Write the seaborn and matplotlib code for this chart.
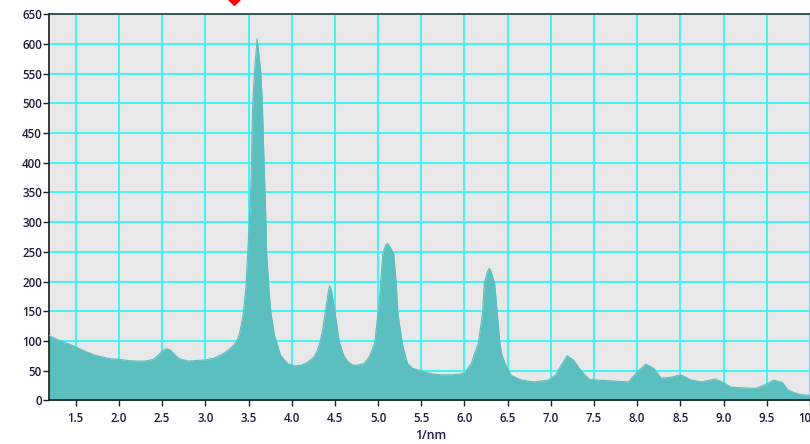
import matplotlib
matplotlib.use("Agg")
import matplotlib.pyplot as plt
import seaborn as sns
import pandas as pd

# Spectrum: intensity versus scattering vector (1/nm)
q_values = [
    1.19, 1.25, 1.32, 1.40, 1.50, 1.60, 1.70, 1.80, 1.90, 2.00,
    2.10, 2.20, 2.30, 2.40, 2.45, 2.50, 2.55, 2.60, 2.65, 2.70,
    2.80, 2.90, 3.00, 3.10, 3.20, 3.27, 3.33, 3.37, 3.40, 3.44,
    3.47, 3.49, 3.52, 3.535, 3.54, 3.55, 3.57, 3.59, 3.60, 3.61,
    3.64, 3.66, 3.67, 3.68, 3.70, 3.71, 3.74, 3.76, 3.80, 3.82,
    3.87, 3.95, 4.03, 4.11, 4.18, 4.26, 4.30, 4.33, 4.36, 4.39,
    4.42, 4.44, 4.46, 4.50, 4.53, 4.55, 4.58, 4.61, 4.66, 4.71,
    4.76, 4.84, 4.90, 4.96, 5.00, 5.03, 5.055, 5.09, 5.11, 5.14,
    5.18, 5.21, 5.23, 5.28, 5.34, 5.40, 5.46, 5.55, 5.65, 5.73,
    5.85, 5.95, 6.00, 6.08, 6.12, 6.16, 6.21, 6.23, 6.27, 6.29,
    6.31, 6.35, 6.38, 6.41, 6.43, 6.47, 6.54, 6.66, 6.81, 6.97,
    7.05, 7.12, 7.19, 7.26, 7.36, 7.45, 7.66, 7.90, 8.00, 8.10,
    8.19, 8.28, 8.40, 8.50, 8.63, 8.75, 8.90, 8.98, 9.09, 9.37,
    9.48, 9.58, 9.68, 9.75, 9.87, 10.02,
]
intensity = [
    109, 105, 100, 96, 90, 83, 77, 73, 70, 69,
    67, 66, 66, 69, 75, 83, 87, 84, 76, 70,
    66, 67, 68, 71, 78, 85, 93, 101, 115, 147,
    190, 247, 330, 399, 450, 500, 556, 590, 609, 595,
    556, 500, 450, 399, 310, 247, 180, 147, 110, 101,
    76, 62, 58, 59, 64, 73, 85, 99, 120, 149,
    180, 193, 185, 149, 120, 99, 85, 73, 64, 59,
    59, 62, 74, 96, 146, 197, 247, 262, 264, 258,
    247, 197, 146, 96, 62, 54, 51, 47, 44, 43,
    43, 44, 46, 62, 80, 96, 146, 197, 218, 222,
    216, 197, 146, 96, 79, 62, 42, 34, 31, 34,
    42, 59, 75, 68, 48, 35, 33, 31, 48, 61,
    54, 37, 39, 43, 34, 31, 36, 31, 22, 20,
    26, 34, 30, 17, 10, 8,
]

x_ticks = [1.5, 2.0, 2.5, 3.0, 3.5, 4.0, 4.5, 5.0, 5.5, 6.0, 6.5,
           7.0, 7.5, 8.0, 8.5, 9.0, 9.5, 10.0]
y_ticks = list(range(0, 651, 50))
cursor_q = 3.33

df = pd.DataFrame({"q": q_values, "intensity": intensity})

sns.set_style("ticks")
plt.rcParams["font.family"] = ["Open Sans", "DejaVu Sans"]

fill_color = "#5cbfbf"
grid_color = "#3ff5f5"
label_color = "#1c1c3c"
label_font = dict(size=8.3, weight="semibold")

fig = plt.figure(figsize=(8.1, 4.44), dpi=100)
ax = fig.add_axes([49 / 810, 43.7 / 444, 1 - 49 / 810 + 0.002, (400.3 - 14.3) / 444])
ax.set_facecolor("#e8e8e8")

ax.fill_between(df["q"], df["intensity"], 0, color=fill_color, linewidth=0, zorder=2)
sns.lineplot(data=df, x="q", y="intensity", ax=ax, color=fill_color,
             linewidth=0.8, zorder=3, estimator=None, sort=False)

ax.set_xlim(1.19, 10.02)
ax.set_ylim(0, 650)
ax.set_xticks(x_ticks)
ax.set_xticklabels([f"{v:.1f}" for v in x_ticks], fontdict=label_font)
ax.set_yticks(y_ticks)
ax.set_yticklabels([str(v) for v in y_ticks], fontdict=label_font)

ax.grid(True, color=grid_color, linewidth=1.4, zorder=0)
ax.set_axisbelow(True)

ax.tick_params(axis="both", length=4, width=1, color="#222222",
               labelcolor=label_color)
ax.tick_params(axis="x", pad=4.5)
ax.tick_params(axis="y", pad=1)
ax.set_xlabel("1/nm", fontdict=dict(size=8.8, weight="semibold"),
              color=label_color, labelpad=3)
ax.set_ylabel("")

for side in ("left", "bottom"):
    ax.spines[side].set_color("#1a1a1a")
    ax.spines[side].set_linewidth(1.2)
ax.spines["top"].set_visible(True)
ax.spines["top"].set_color("#333333")
ax.spines["top"].set_linewidth(1.2)
ax.spines["right"].set_visible(False)

# Cursor marker sitting above the plot frame
ax.plot([cursor_q], [677], marker="D", color="#ff0000", markersize=7,
        clip_on=False, zorder=5)

fig.savefig("out.png", dpi=100)
